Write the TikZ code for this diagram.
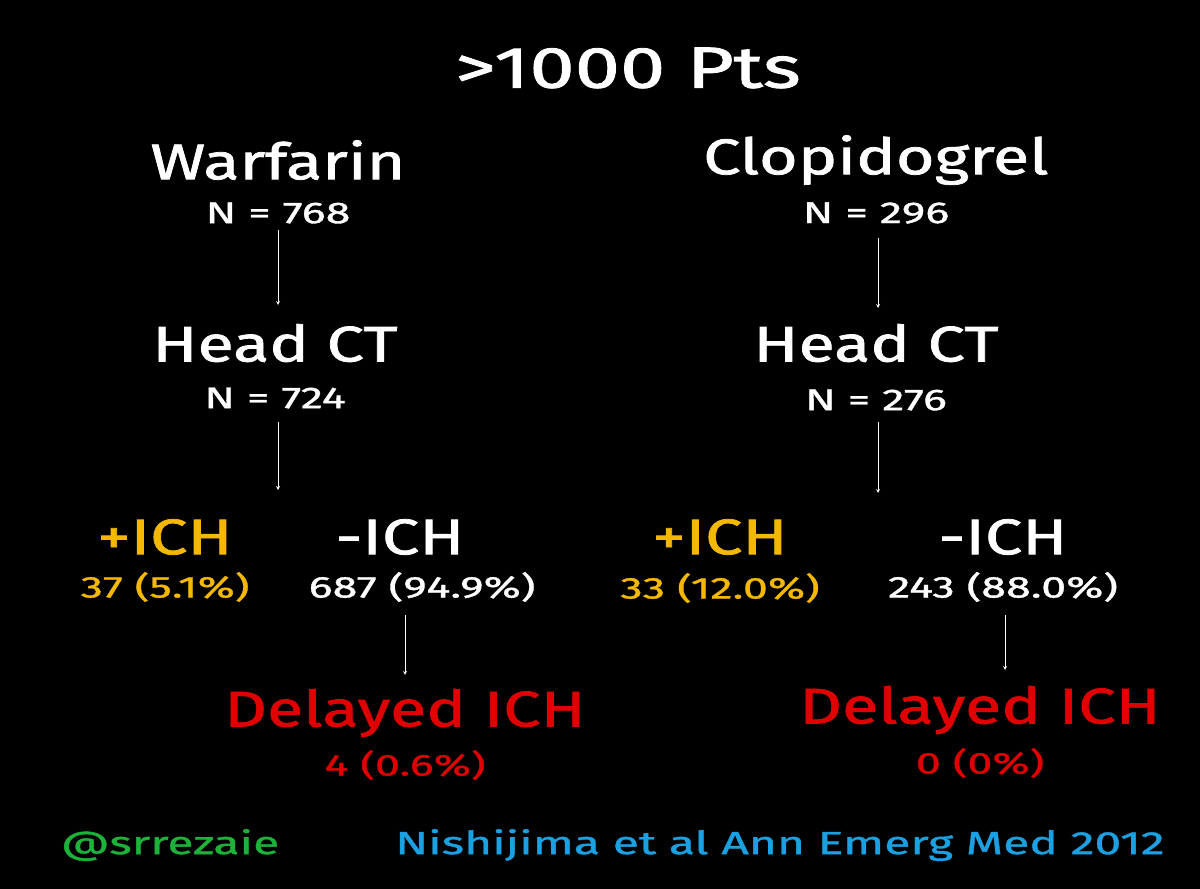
\documentclass[tikz,border=0pt]{standalone}
\usepackage{fontspec}
\setmainfont{Fira Sans}
\newfontfamily\bigf[FakeStretch=1.33,FakeBold=1.5]{Fira Sans}
\newfontfamily\titf[FakeStretch=1.4,FakeBold=1.5]{Fira Sans}
\newfontfamily\smallf[FakeStretch=1.5,FakeBold=1.2]{Fira Sans}
\definecolor{chorange}{HTML}{F5B800}
\definecolor{chred}{HTML}{E00000}
\definecolor{chgreen}{HTML}{1DB33A}
\definecolor{chblue}{HTML}{1BA1E2}
\begin{document}
\begin{tikzpicture}[x=1pt,y=-1pt,
  big/.style={text=white,font=\bigf\fontsize{50}{56}\selectfont,inner sep=0pt},
  small/.style={text=white,font=\smallf\fontsize{30}{34}\selectfont,inner sep=0pt},
  foot/.style={font=\smallf\fontsize{32}{36}\selectfont,inner sep=0pt},
  arr/.style={white,-stealth,line width=0.8pt}]
\fill[black] (0,0) rectangle (1200,889);
\useasboundingbox (0,0) rectangle (1200,889);
\node[big,font=\titf\fontsize{58}{64}\selectfont] (title) at (628,68) {>1000 Pts};
\node[big] (w) at (278,160) {Warfarin};
\node[small] (wn) at (278,213) {N = 768};
\node[big] (wh) at (275,343) {Head CT};
\node[small] (whn) at (275,398) {N = 724};
\node[big,text=chorange] (wp) at (165,537) {+ICH};
\node[small,text=chorange] (wpn) at (165,587) {37 (5.1\%)};
\node[big] (wm) at (400,537) {-ICH};
\node[small] (wmn) at (422,587) {687 (94.9\%)};
\node[big,text=chred] (wd) at (405,713) {Delayed ICH};
\node[small,text=chred] (wdn) at (405,765) {4 (0.6\%)};
\node[big] (c) at (876,160) {Clopidogrel};
\node[small] (cn) at (876,213) {N = 296};
\node[big] (ch) at (876,343) {Head CT};
\node[small] (chn) at (876,400) {N = 276};
\node[big,text=chorange] (cp) at (720,537) {+ICH};
\node[small,text=chorange] (cpn) at (720,588) {33 (12.0\%)};
\node[big] (cm) at (1003,537) {-ICH};
\node[small] (cmn) at (1003,587) {243 (88.0\%)};
\node[big,text=chred] (cd) at (980,710) {Delayed ICH};
\node[small,text=chred] (cdn) at (980,763) {0 (0\%)};
\node[foot,text=chgreen] (tw) at (170,845) {@srrezaie};
\node[foot,text=chblue] (ref) at (780,845) {Nishijima et al Ann Emerg Med 2012};
\coordinate (a1) at (278,305); \coordinate (a2) at (278,490);
\coordinate (a3) at (405,675); \coordinate (a4) at (878,308);
\coordinate (a5) at (878,493); \coordinate (a6) at (1005,670);
\draw[arr] (278,230) -- (a1);
\draw[arr] (278,422) -- (a2);
\draw[arr] (405,615) -- (a3);
\draw[arr] (878,238) -- (a4);
\draw[arr] (878,422) -- (a5);
\draw[arr] (1005,615) -- (a6);
\end{tikzpicture}
\end{document}
